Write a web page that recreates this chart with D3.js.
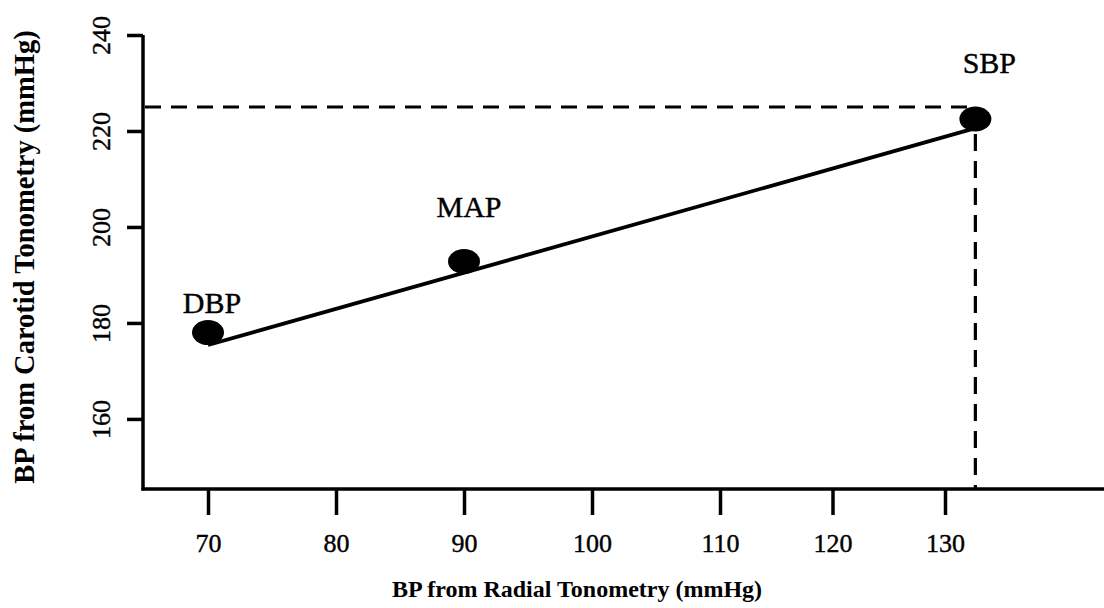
<!DOCTYPE html>
<html>
<head>
<meta charset="utf-8">
<script src="https://cdn.jsdelivr.net/npm/d3@7"></script>
<style>
  html, body { margin: 0; padding: 0; background: #fff; }
  svg { display: block; }
  text { font-family: "Liberation Serif", "Times New Roman", serif; fill: #000; }
</style>
</head>
<body>
<svg id="chart" width="1104" height="608"></svg>
<script>
// ---- data ----
const pointNames = ["DBP", "MAP", "SBP"];
const radialBP = [70, 90, 132.7];      // x values (mmHg)
const carotidBP = [178, 192.8, 222.5]; // y values (mmHg)
const fitStart = [70, 175.4];
const fitEnd = [132.7, 220.6];
const refLevel = 225;                   // dashed horizontal guide
const xTickValues = [70, 80, 90, 100, 110, 120, 130];
const yTickValues = [160, 180, 200, 220, 240];
const xTitle = "BP from Radial Tonometry (mmHg)";
const yTitle = "BP from Carotid Tonometry (mmHg)";

// ---- layout ----
const svg = d3.select("#chart");
const axisLeftX = 143, axisBottomY = 489, axisTopY = 35, axisRightX = 1104;
// reference tick spacing is uneven: piecewise-linear scale
const x = d3.scaleLinear().domain([70, 110, 130]).range([208, 720, 945]);
const y = d3.scaleLinear().domain([145.4, 240]).range([axisBottomY, axisTopY]);
const labelOffset = { DBP: [4, -20], MAP: [5, -45], SBP: [14, -46] };

// axis lines
svg.append("line").attr("x1", axisLeftX).attr("x2", axisLeftX)
  .attr("y1", axisTopY).attr("y2", axisBottomY + 1.5)
  .attr("stroke", "#000").attr("stroke-width", 3.5);
svg.append("line").attr("x1", axisLeftX - 1.5).attr("x2", axisRightX)
  .attr("y1", axisBottomY).attr("y2", axisBottomY)
  .attr("stroke", "#000").attr("stroke-width", 3.5);

// x axis ticks
const gx = svg.append("g").attr("transform", `translate(0,${axisBottomY})`)
  .call(d3.axisBottom(x).tickValues(xTickValues).tickSize(26).tickSizeOuter(0).tickPadding(19));
gx.select(".domain").remove();
gx.selectAll(".tick line").attr("stroke", "#000").attr("stroke-width", 3.5);
gx.selectAll(".tick text").attr("font-family", "Liberation Serif").attr("font-size", 26)
  .attr("fill", "#000").attr("stroke", "#000").attr("stroke-width", 0.4);

// y axis ticks
const gy = svg.append("g").attr("transform", `translate(${axisLeftX},0)`)
  .call(d3.axisLeft(y).tickValues(yTickValues).tickSize(16).tickSizeOuter(0));
gy.select(".domain").remove();
gy.selectAll(".tick line").attr("stroke", "#000").attr("stroke-width", 3.5);
gy.selectAll(".tick text")
  .attr("font-family", "Liberation Serif").attr("font-size", 26).attr("fill", "#000")
  .attr("stroke", "#000").attr("stroke-width", 0.4)
  .attr("text-anchor", "middle").attr("dy", null).attr("x", null)
  .attr("transform", "translate(-33,0) rotate(-90)");

// dashed guide lines
const sbpX = radialBP[2];
svg.append("line")
  .attr("x1", axisLeftX + 2).attr("x2", x(sbpX))
  .attr("y1", y(refLevel)).attr("y2", y(refLevel))
  .attr("stroke", "#000").attr("stroke-width", 3.2).attr("stroke-dasharray", "16,10");
svg.append("line")
  .attr("x1", x(sbpX)).attr("x2", x(sbpX))
  .attr("y1", y(refLevel)).attr("y2", axisBottomY)
  .attr("stroke", "#000").attr("stroke-width", 3.2).attr("stroke-dasharray", "17,10");

// regression line
svg.append("line")
  .attr("x1", x(fitStart[0])).attr("y1", y(fitStart[1]))
  .attr("x2", x(fitEnd[0])).attr("y2", y(fitEnd[1]))
  .attr("stroke", "#000").attr("stroke-width", 3.8);

// points
const pts = pointNames.map((n, i) => ({ name: n, x: radialBP[i], y: carotidBP[i] }));
svg.selectAll("ellipse.pt").data(pts).enter().append("ellipse")
  .attr("class", "pt")
  .attr("cx", d => x(d.x)).attr("cy", d => y(d.y))
  .attr("rx", 16).attr("ry", 12.5).attr("fill", "#000");

svg.selectAll("text.pl").data(pts).enter().append("text")
  .attr("class", "pl")
  .attr("x", d => x(d.x) + labelOffset[d.name][0])
  .attr("y", d => y(d.y) + labelOffset[d.name][1])
  .attr("text-anchor", "middle").attr("font-size", 30)
  .attr("stroke", "#000").attr("stroke-width", 0.4)
  .text(d => d.name);

// axis titles
svg.append("text").attr("x", 577).attr("y", 597)
  .attr("text-anchor", "middle").attr("font-size", 24).attr("font-weight", "bold")
  .text(xTitle);
svg.append("text").attr("transform", "translate(34,257) rotate(-90)")
  .attr("text-anchor", "middle").attr("font-size", 28.5).attr("font-weight", "bold")
  .text(yTitle);
</script>
</body>
</html>
